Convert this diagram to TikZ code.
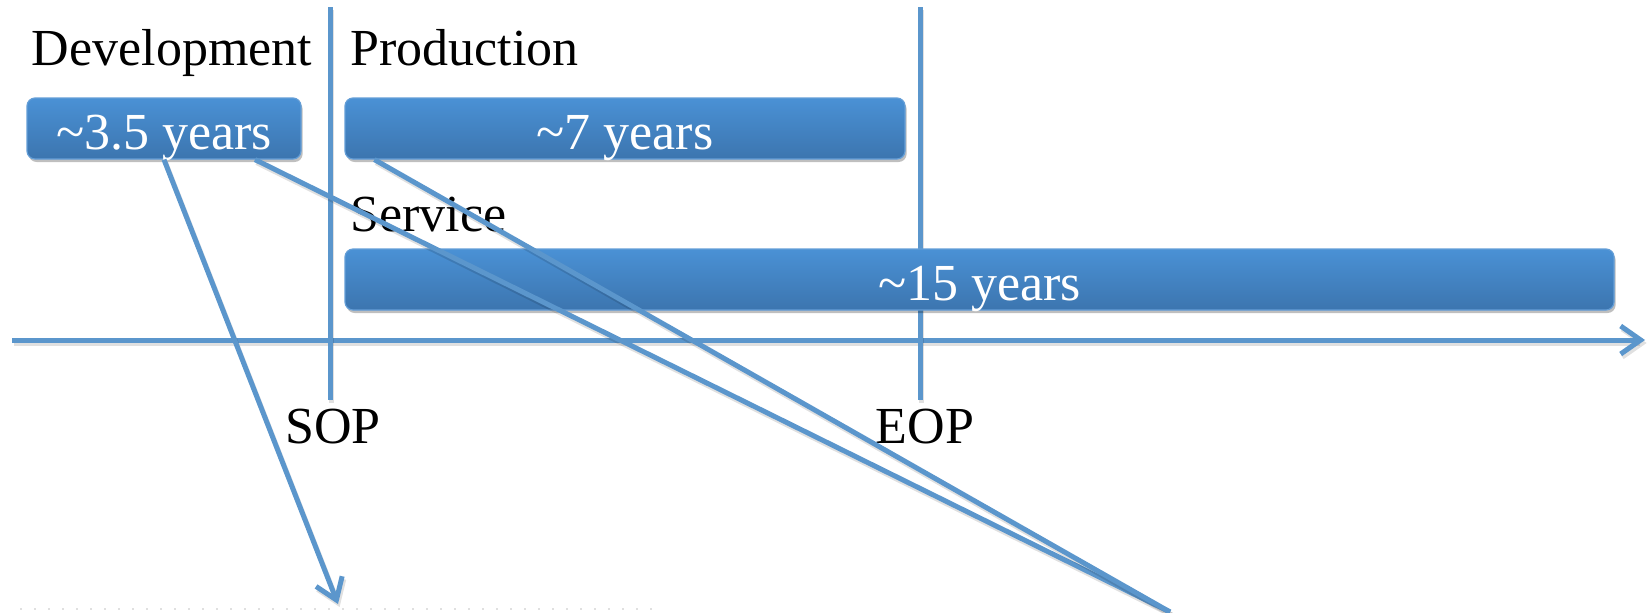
\documentclass[tikz,border=0pt]{standalone}
\usepackage{fontspec}
\setmainfont{Liberation Serif}
\usetikzlibrary{arrows.meta,shadows,calc}
\definecolor{lineblue}{RGB}{91,150,204}
\definecolor{boxtop}{RGB}{74,145,213}
\definecolor{boxbot}{RGB}{60,117,175}
\definecolor{boxedge}{RGB}{100,158,215}
\tikzset{
  x=0.5pt, y=-0.5pt,
  bluebox/.style={rounded corners=4pt, top color=boxtop, bottom color=boxbot,
    draw=boxedge, line width=0.6pt, text=white, inner sep=0pt,
    minimum height=30.5pt, text height=24pt, text depth=3.4pt,
    drop shadow={shadow xshift=0.8pt, shadow yshift=-1.5pt, opacity=0.25, fill=black},
    font=\fontsize{26}{30}\selectfont},
  lbl/.style={text=black, inner sep=0pt, font=\fontsize{26}{30}\selectfont},
  bluel/.style={draw=lineblue, line width=2.5pt,
    preaction={draw=black, opacity=0.12, line width=2.5pt,
      transform canvas={xshift=0.8pt, yshift=-1.5pt}}},
  barb/.style={-{Straight Barb[length=10pt,width=14pt]}}
}
\begin{document}
\begin{tikzpicture}
\useasboundingbox (0,0) rectangle (1648,612);
% faint tick row at the bottom
\draw[black!12, line width=1pt, dash pattern=on 1pt off 6pt] (20,609) -- (660,609);
% time axis
\coordinate (axL) at (12,340);
\coordinate (axR) at (1645,340);
\draw[bluel, barb] (axL) -- (axR);
% milestone lines
\coordinate (sopT) at (330,7);
\coordinate (sopB) at (330,400);
\coordinate (eopT) at (920,7);
\coordinate (eopB) at (920,400);
\draw[bluel] (sopT) -- (sopB);
\draw[bluel] (eopT) -- (eopB);
% labels
\node[lbl, anchor=base] (devl) at (172,65) {Development};
\node[lbl, anchor=base west] (prodl) at (350,65) {Production};
\node[lbl, anchor=base west] (servl) at (350,231) {Service};
\node[lbl, anchor=base] (sop) at (333,443) {SOP};
\node[lbl, anchor=base] (eop) at (925,443) {EOP};
% boxes
\node[bluebox, minimum width=137pt] (dev) at (164,128.5) {\textasciitilde3.5 years};
\node[bluebox, minimum width=280pt] (prod) at (625,128.5) {\textasciitilde7 years};
\node[bluebox, minimum width=634.5pt] (serv) at (979.5,279.5) {\textasciitilde15 years};
% connectors
\coordinate (e1) at (338,604);
\coordinate (e2) at (1170,612);
\coordinate (e3) at (1170,612);
\draw[bluel, barb] (dev.south) -- (e1);
\draw[bluel] ([xshift=45.5pt]dev.south) -- (e2);
\draw[bluel] ([xshift=15pt]prod.south west) -- (e3);
\end{tikzpicture}
\end{document}
